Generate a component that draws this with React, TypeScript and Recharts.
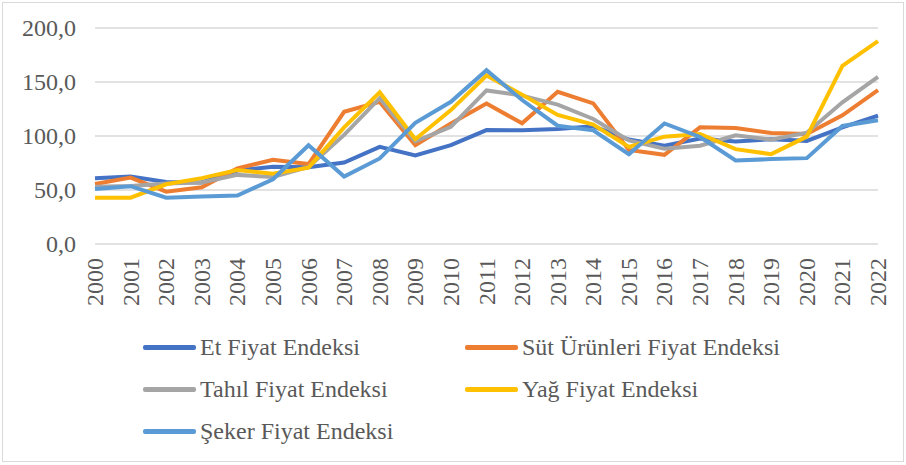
import React from "react";
import { LineChart, Line, XAxis, YAxis, CartesianGrid, Legend } from "recharts";

const years = ["2000","2001","2002","2003","2004","2005","2006","2007","2008","2009","2010","2011","2012","2013","2014","2015","2016","2017","2018","2019","2020","2021","2022"];
const et = [60.8, 62.4, 57.5, 57.0, 68.0, 71.6, 71.0, 75.5, 90.0, 82.0, 91.5, 105.5, 105.3, 106.5, 109.0, 96.7, 91.0, 97.7, 94.9, 97.0, 95.5, 108.0, 118.9];
const sut = [55.6, 61.5, 48.5, 52.5, 70.0, 78.0, 74.0, 122.4, 131.6, 91.5, 111.5, 130.0, 111.7, 140.9, 130.2, 87.1, 82.6, 108.0, 107.3, 102.8, 101.8, 119.1, 142.5];
const tahil = [53.0, 53.7, 56.0, 57.0, 64.0, 62.0, 71.3, 101.0, 135.0, 95.0, 108.5, 142.2, 137.4, 129.1, 115.8, 95.9, 88.3, 91.0, 100.6, 96.6, 103.1, 131.2, 154.7];
const yag = [42.8, 42.9, 55.3, 61.0, 68.5, 65.0, 70.7, 108.0, 140.5, 97.0, 124.0, 156.0, 138.3, 119.5, 110.6, 89.9, 99.4, 101.9, 87.8, 83.2, 99.4, 164.9, 187.8];
const seker = [51.0, 53.5, 42.8, 44.0, 44.8, 60.0, 91.4, 62.4, 79.2, 112.2, 131.7, 160.9, 133.3, 109.5, 105.2, 83.2, 111.6, 99.1, 77.4, 78.6, 79.5, 109.3, 114.5];
const yTicks = [0, 50, 100, 150, 200];

const seriesNames = ["Et Fiyat Endeksi", "Süt Ürünleri Fiyat Endeksi", "Tahıl Fiyat Endeksi", "Yağ Fiyat Endeksi", "Şeker Fiyat Endeksi"];
const seriesKeys = ["et", "sut", "tahil", "yag", "seker"];
const seriesColors = ["#4472C4", "#ED7D31", "#A5A5A5", "#FFC000", "#5B9BD5"];

const data = years.map((y, i) => ({
  year: y,
  et: et[i],
  sut: sut[i],
  tahil: tahil[i],
  yag: yag[i],
  seker: seker[i],
}));

const FONT = `"Liberation Serif", serif`;
const TEXT = "#595959";

const XTick = (props: any) => {
  const { x, y, payload } = props;
  return (
    <text
      x={x}
      y={y}
      transform={`rotate(-90, ${x}, ${y})`}
      textAnchor="end"
      dominantBaseline="central"
      style={{ fontFamily: FONT, fontSize: 24 }}
      fill={TEXT}
    >
      {payload.value}
    </text>
  );
};

const YTick = (props: any) => {
  const { x, y, payload } = props;
  return (
    <text
      x={x}
      y={y}
      textAnchor="end"
      dominantBaseline="central"
      style={{ fontFamily: FONT, fontSize: 24 }}
      fill={TEXT}
    >
      {Number(payload.value).toFixed(1).replace(".", ",")}
    </text>
  );
};

const renderLegend = (props: any) => {
  const payload = props.payload || [];
  return (
    <div
      style={{
        display: "grid",
        gridTemplateColumns: "322px 322px",
        gridAutoRows: "42px",
        paddingLeft: 143,
        fontFamily: FONT,
        fontSize: 24,
        color: TEXT,
      }}
    >
      {payload.map((p: any) => (
        <div key={p.value} style={{ display: "flex", alignItems: "center", whiteSpace: "nowrap", fontFamily: FONT }}>
          <span style={{ display: "inline-block", width: 53, height: 5, background: p.color, borderRadius: 2, marginRight: 4 }} />
          <span style={{ fontFamily: FONT }}>{p.value}</span>
        </div>
      ))}
    </div>
  );
};

export default function App() {
  return (
    <div style={{ position: "absolute", left: 0, top: 0, width: 906, height: 465, background: "#fff", fontFamily: FONT }}>
      <div style={{ position: "absolute", left: 2, top: 2, width: 900, height: 458, border: "1px solid #d9d9d9" }} />
      <div style={{ position: "absolute", left: 0, top: 0 }}>
        <LineChart width={906} height={465} data={data} margin={{ top: 28, right: 28, left: 0, bottom: 0 }}>
          <CartesianGrid vertical={false} stroke="#d9d9d9" strokeWidth={1.5} />
          <XAxis
            dataKey="year"
            axisLine={false}
            tickLine={false}
            height={221}
            interval={0}
            tick={<XTick />}
            tickMargin={8}
          />
          <YAxis
            domain={[0, 200]}
            ticks={yTicks}
            width={95}
            axisLine={false}
            tickLine={false}
            tickSize={0}
            tickMargin={19}
            tick={<YTick />}
          />
          <Legend
            layout="horizontal"
            verticalAlign="middle"
            wrapperStyle={{ top: 326, left: 0, width: 906 }}
            content={renderLegend}
          />
          {seriesKeys.map((k, i) => (
            <Line
              key={k}
              type="linear"
              dataKey={k}
              name={seriesNames[i]}
              stroke={seriesColors[i]}
              strokeWidth={4}
              dot={false}
              activeDot={false}
              isAnimationActive={false}
            />
          ))}
        </LineChart>
      </div>
    </div>
  );
}
